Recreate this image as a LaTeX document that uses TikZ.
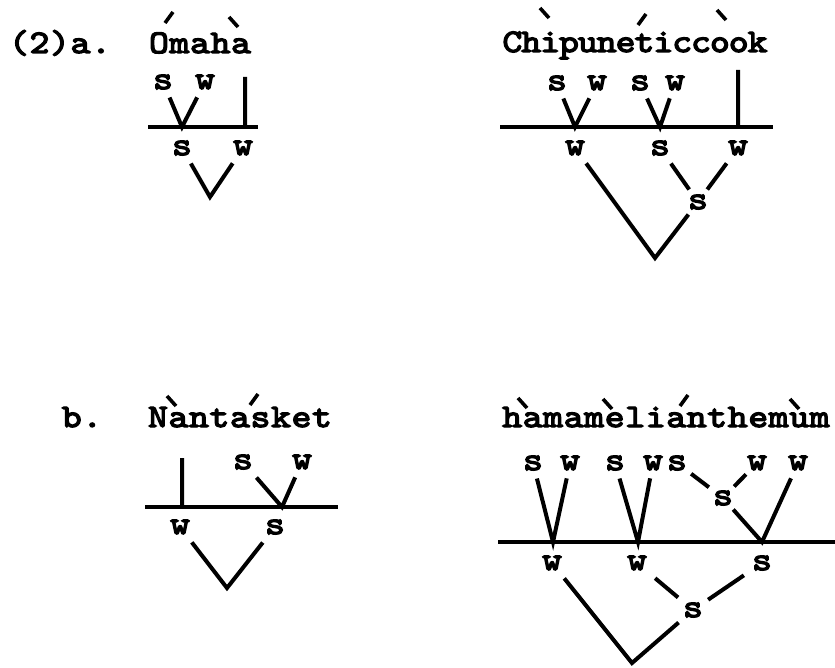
\documentclass[tikz,border=0pt]{standalone}
\usepackage{fontspec}
\newfontfamily\tw{lmmono10-regular.otf}[FakeBold=4,FakeStretch=1.15,LetterSpace=2]
\newfontfamily\twtight{lmmono10-regular.otf}[FakeBold=4,FakeStretch=1.15,LetterSpace=-3]
% stress marks typed over the words
\newcommand{\acu}[1]{\draw[accent] #1 -- ++(8,-11);}
\newcommand{\grv}[1]{\draw[accent] #1 -- ++(9,10);}

\begin{document}
\begin{tikzpicture}[x=1bp,y=-1bp,
  word/.style={font=\tw\fontsize{33}{40}\selectfont,anchor=base,inner sep=0pt},
  lab/.style={font=\tw\fontsize{33}{40}\selectfont,inner sep=8bp},
  branch/.style={line width=4bp},
  bar/.style={line width=3.6bp},
  accent/.style={line width=3.6bp}]
\useasboundingbox (0,0) rectangle (835,668);

% (2)a. Omaha
\begin{scope}
\node[word] (ex2a) at (60,53) {(2)a.};
\node[word] (omaha) at (200,53) {Omaha};
\acu{(165,23)} \grv{(229,17)}
\coordinate (obl) at (148,127); \coordinate (obr) at (258,127);
\coordinate (oj1) at (182,127); \coordinate (oj2) at (245,127);
\coordinate (otop) at (245,77);
\coordinate (obot) at (210,197);
\node[lab] (os1) at (163,82) {s};
\node[lab] (ow1) at (205,82) {w};
\node[lab] (os) at (182,148) {s};
\node[lab] (ow) at (243,148) {w};
\draw[bar] (obl) -- (obr);
\draw[branch] (os1) -- (oj1) -- (ow1) (otop) -- (oj2);
\draw[branch] (os) -- (obot) -- (ow);
\end{scope}

% Chipuneticcook
\begin{scope}
\node[word,font=\twtight\fontsize{33}{40}\selectfont] (chip) at (635,52) {Chipuneticcook};
\grv{(540,8)} \acu{(638,25)} \grv{(717,10)}
\coordinate (cbl) at (500,127); \coordinate (cbr) at (773,127);
\coordinate (cj1) at (575,127); \coordinate (cj2) at (660,127); \coordinate (cj3) at (738,127);
\coordinate (ctop) at (738,70);
\coordinate (cbot) at (655,258);
\node[lab] (cs1) at (557,83) {s};
\node[lab] (cw1) at (597,83) {w};
\node[lab] (cs2) at (640,83) {s};
\node[lab] (cw2) at (675,83) {w};
\node[lab] (cw) at (575,148) {w};
\node[lab] (cs) at (660,148) {s};
\node[lab] (cw3) at (738,148) {w};
\node[lab,inner sep=5bp] (cm) at (698,202) {s};
\draw[bar] (cbl) -- (cbr);
\draw[branch] (cs1) -- (cj1) -- (cw1) (cs2) -- (cj2) -- (cw2) (ctop) -- (cj3);
\draw[branch] (cs) -- (cm) -- (cw3);
\draw[branch] (cw) -- (cbot) -- (cm);
\end{scope}

% b. Nantasket
\begin{scope}
\node[word] (exb) at (82,427) {b.};
\node[word] (nant) at (240,427) {Nantasket};
\grv{(167,396)} \acu{(250,405)}
\coordinate (nbl) at (145,507); \coordinate (nbr) at (338,507);
\coordinate (nj1) at (182,507); \coordinate (nj2) at (282,507);
\coordinate (ntop) at (182,458);
\coordinate (nbot) at (227,588);
\node[lab] (ns1) at (243,462) {s};
\node[lab] (nw1) at (302,462) {w};
\node[lab] (nw) at (180,527) {w};
\node[lab] (ns) at (275,527) {s};
\draw[bar] (nbl) -- (nbr);
\draw[branch] (ntop) -- (nj1) (ns1) -- (nj2) -- (nw1);
\draw[branch] (nw) -- (nbot) -- (ns);
\end{scope}

% hamamelianthemum
\begin{scope}
\node[word] (hama) at (666,427) {hamamelianthemum};
\grv{(518,398)} \grv{(603,399)} \acu{(680,406)} \grv{(790,399)}
\coordinate (hbl) at (498,542); \coordinate (hbr) at (835,542);
\coordinate (hj1) at (553,542); \coordinate (hj2) at (638,542); \coordinate (hj3) at (762,542);
\coordinate (hbot) at (632,663);
\node[lab] (hs1) at (533,463) {s};
\node[lab] (hw1) at (570,463) {w};
\node[lab] (hs2) at (615,463) {s};
\node[lab] (hw2) at (653,463) {w};
\node[lab,inner sep=4bp] (hs3) at (677,463) {s};
\node[lab,inner sep=4bp] (hw3) at (757,463) {w};
\node[lab] (hw4) at (798,463) {w};
\node[lab,inner sep=4bp] (hm1) at (723,498) {s};
\node[lab] (hw) at (552,563) {w};
\node[lab] (hw5) at (637,563) {w};
\node[lab] (hs) at (762,563) {s};
\node[lab,inner sep=5bp] (hm2) at (693,610) {s};
\draw[bar] (hbl) -- (hbr);
\draw[branch] (hs1) -- (hj1) -- (hw1) (hs2) -- (hj2) -- (hw2);
\draw[branch] (hs3) -- (hm1) -- (hw3) (hm1) -- (hj3) -- (hw4);
\draw[branch] (hw5) -- (hm2) -- (hs);
\draw[branch] (hw) -- (hbot) -- (hm2);
\end{scope}
\end{tikzpicture}
\end{document}
